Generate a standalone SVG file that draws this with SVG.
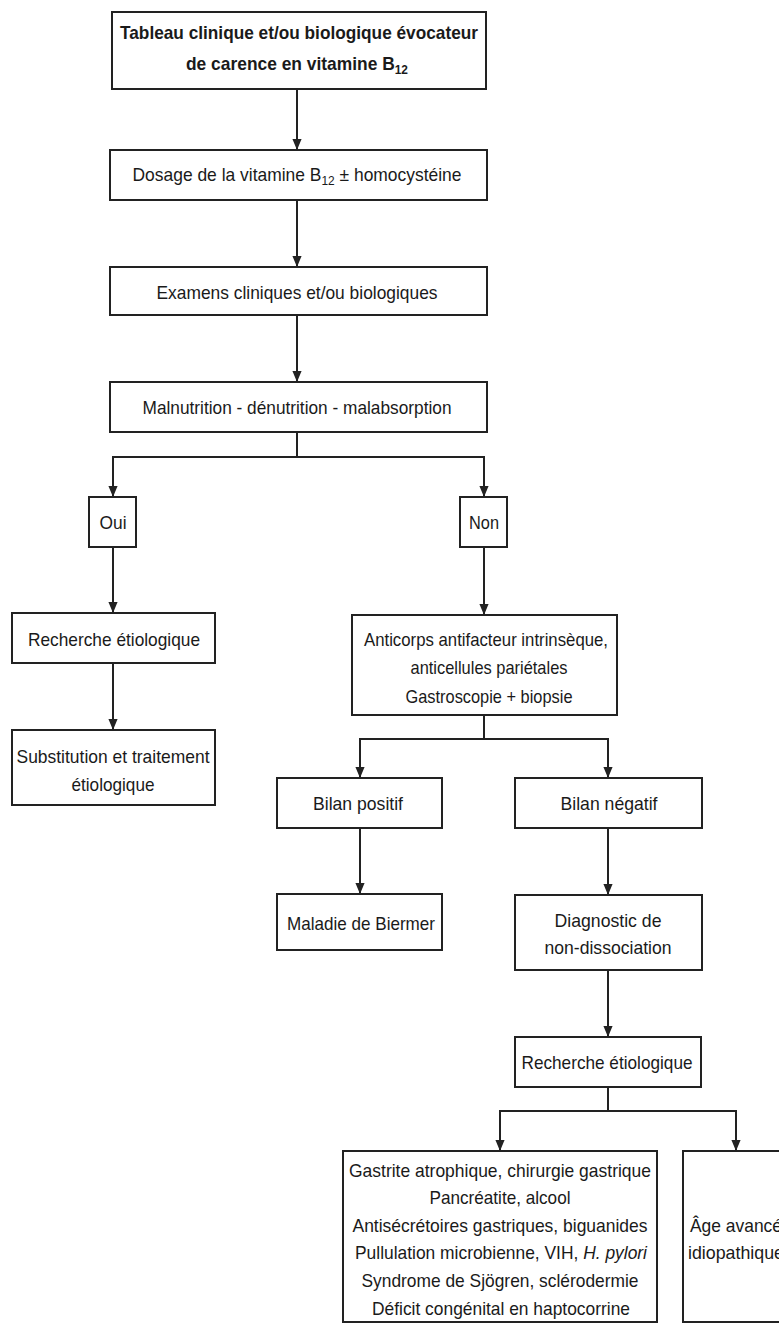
<svg xmlns="http://www.w3.org/2000/svg" width="779" height="1323" viewBox="0 0 779 1323">
<style>
.box{fill:#fff;stroke:#222;stroke-width:2}
.t{font-family:"Liberation Sans Narrow","Liberation Sans",Arial,sans-serif;font-size:19px;fill:#1a1a1a;text-anchor:middle}
.b{font-weight:bold}
.l{text-anchor:start}
.c{fill:none;stroke:#222;stroke-width:2}
</style>
<defs>
<marker id="ah" viewBox="0 0 12 10" markerWidth="11" markerHeight="10" refX="12" refY="5" orient="auto" markerUnits="userSpaceOnUse">
<path d="M0,0 L12,5 L0,10 z" fill="#222"/>
</marker>
</defs>
<rect width="779" height="1323" fill="#fff"/>
<g id="connectors">
<path class="c" d="M297,89 V150" marker-end="url(#ah)"/>
<path class="c" d="M297,200 V267" marker-end="url(#ah)"/>
<path class="c" d="M297,315 V382" marker-end="url(#ah)"/>
<path class="c" d="M297,432 V457 H113 V497" marker-end="url(#ah)"/>
<path class="c" d="M297,457 H484 V497" marker-end="url(#ah)"/>
<path class="c" d="M113,547 V613" marker-end="url(#ah)"/>
<path class="c" d="M113,663 V730" marker-end="url(#ah)"/>
<path class="c" d="M484,547 V615" marker-end="url(#ah)"/>
<path class="c" d="M484,715 V739 H360 V778" marker-end="url(#ah)"/>
<path class="c" d="M484,739 H608 V778" marker-end="url(#ah)"/>
<path class="c" d="M360,828 V894" marker-end="url(#ah)"/>
<path class="c" d="M608,828 V895" marker-end="url(#ah)"/>
<path class="c" d="M608,970 V1037" marker-end="url(#ah)"/>
<path class="c" d="M608,1087 V1111 H500 V1151" marker-end="url(#ah)"/>
<path class="c" d="M608,1111 H736 V1151" marker-end="url(#ah)"/>
</g>
<g id="n1">
<rect class="box" x="112" y="12" width="374" height="77"/>
<text class="t b" x="299" y="39" textLength="358" lengthAdjust="spacingAndGlyphs">Tableau clinique et/ou biologique évocateur</text>
<text class="t b" x="297" y="70" textLength="222" lengthAdjust="spacingAndGlyphs">de carence en vitamine B<tspan font-size="13" dy="4">12</tspan></text>
</g>
<g id="n2">
<rect class="box" x="110" y="150" width="377" height="50"/>
<text class="t" x="297" y="181" textLength="329" lengthAdjust="spacingAndGlyphs">Dosage de la vitamine B<tspan font-size="13" dy="4">12</tspan><tspan dy="-4"> ± homocystéine</tspan></text>
</g>
<g id="n3">
<rect class="box" x="110" y="267" width="377" height="48"/>
<text class="t" x="297" y="299" textLength="281" lengthAdjust="spacingAndGlyphs">Examens cliniques et/ou biologiques</text>
</g>
<g id="n4">
<rect class="box" x="110" y="382" width="377" height="50"/>
<text class="t" x="297" y="414" textLength="309" lengthAdjust="spacingAndGlyphs">Malnutrition - dénutrition - malabsorption</text>
</g>
<g id="oui">
<rect class="box" x="89" y="497" width="47" height="50"/>
<text class="t" x="113" y="529" textLength="27" lengthAdjust="spacingAndGlyphs">Oui</text>
</g>
<g id="rech1">
<rect class="box" x="12" y="613" width="203" height="50"/>
<text class="t" x="114" y="646" textLength="172" lengthAdjust="spacingAndGlyphs">Recherche étiologique</text>
</g>
<g id="subst">
<rect class="box" x="12" y="730" width="203" height="75"/>
<text class="t" x="113" y="763" textLength="193" lengthAdjust="spacingAndGlyphs">Substitution et traitement</text>
<text class="t" x="113" y="791" textLength="83" lengthAdjust="spacingAndGlyphs">étiologique</text>
</g>
<g id="non">
<rect class="box" x="460" y="497" width="47" height="50"/>
<text class="t" x="484" y="529" textLength="30" lengthAdjust="spacingAndGlyphs">Non</text>
</g>
<g id="anti">
<rect class="box" x="352" y="615" width="265" height="100"/>
<text class="t" x="486" y="646" textLength="244" lengthAdjust="spacingAndGlyphs">Anticorps antifacteur intrinsèque,</text>
<text class="t" x="489" y="674" textLength="157" lengthAdjust="spacingAndGlyphs">anticellules pariétales</text>
<text class="t" x="489" y="703" textLength="167" lengthAdjust="spacingAndGlyphs">Gastroscopie + biopsie</text>
</g>
<g id="bpos">
<rect class="box" x="277" y="778" width="165" height="50"/>
<text class="t" x="358" y="810" textLength="90" lengthAdjust="spacingAndGlyphs">Bilan positif</text>
</g>
<g id="bneg">
<rect class="box" x="515" y="778" width="187" height="50"/>
<text class="t" x="609" y="810" textLength="97" lengthAdjust="spacingAndGlyphs">Bilan négatif</text>
</g>
<g id="maladie">
<rect class="box" x="277" y="894" width="165" height="56"/>
<text class="t" x="361" y="930" textLength="148" lengthAdjust="spacingAndGlyphs">Maladie de Biermer</text>
</g>
<g id="diag">
<rect class="box" x="515" y="895" width="187" height="75"/>
<text class="t" x="608" y="927" textLength="107" lengthAdjust="spacingAndGlyphs">Diagnostic de</text>
<text class="t" x="608" y="954" textLength="127" lengthAdjust="spacingAndGlyphs">non-dissociation</text>
</g>
<g id="rech2">
<rect class="box" x="515" y="1037" width="186" height="50"/>
<text class="t" x="607" y="1069" textLength="171" lengthAdjust="spacingAndGlyphs">Recherche étiologique</text>
</g>
<g id="causes">
<rect class="box" x="343" y="1151" width="314" height="171"/>
<text class="t" x="500" y="1177" textLength="302" lengthAdjust="spacingAndGlyphs">Gastrite atrophique, chirurgie gastrique</text>
<text class="t" x="500" y="1204" textLength="141" lengthAdjust="spacingAndGlyphs">Pancréatite, alcool</text>
<text class="t" x="500" y="1232" textLength="295" lengthAdjust="spacingAndGlyphs">Antisécrétoires gastriques, biguanides</text>
<text class="t" x="501" y="1259" textLength="292" lengthAdjust="spacingAndGlyphs">Pullulation microbienne, VIH, <tspan font-style="italic">H. pylori</tspan></text>
<text class="t" x="500" y="1287" textLength="277" lengthAdjust="spacingAndGlyphs">Syndrome de Sjögren, sclérodermie</text>
<text class="t" x="501" y="1315" textLength="258" lengthAdjust="spacingAndGlyphs">Déficit congénital en haptocorrine</text>
</g>
<g id="age">
<rect class="box" x="683" y="1151" width="130" height="171"/>
<text class="t l" x="690" y="1232" textLength="92" lengthAdjust="spacingAndGlyphs">Âge avancé</text>
<text class="t l" x="688" y="1259" textLength="96" lengthAdjust="spacingAndGlyphs">idiopathique</text>
</g>
</svg>
